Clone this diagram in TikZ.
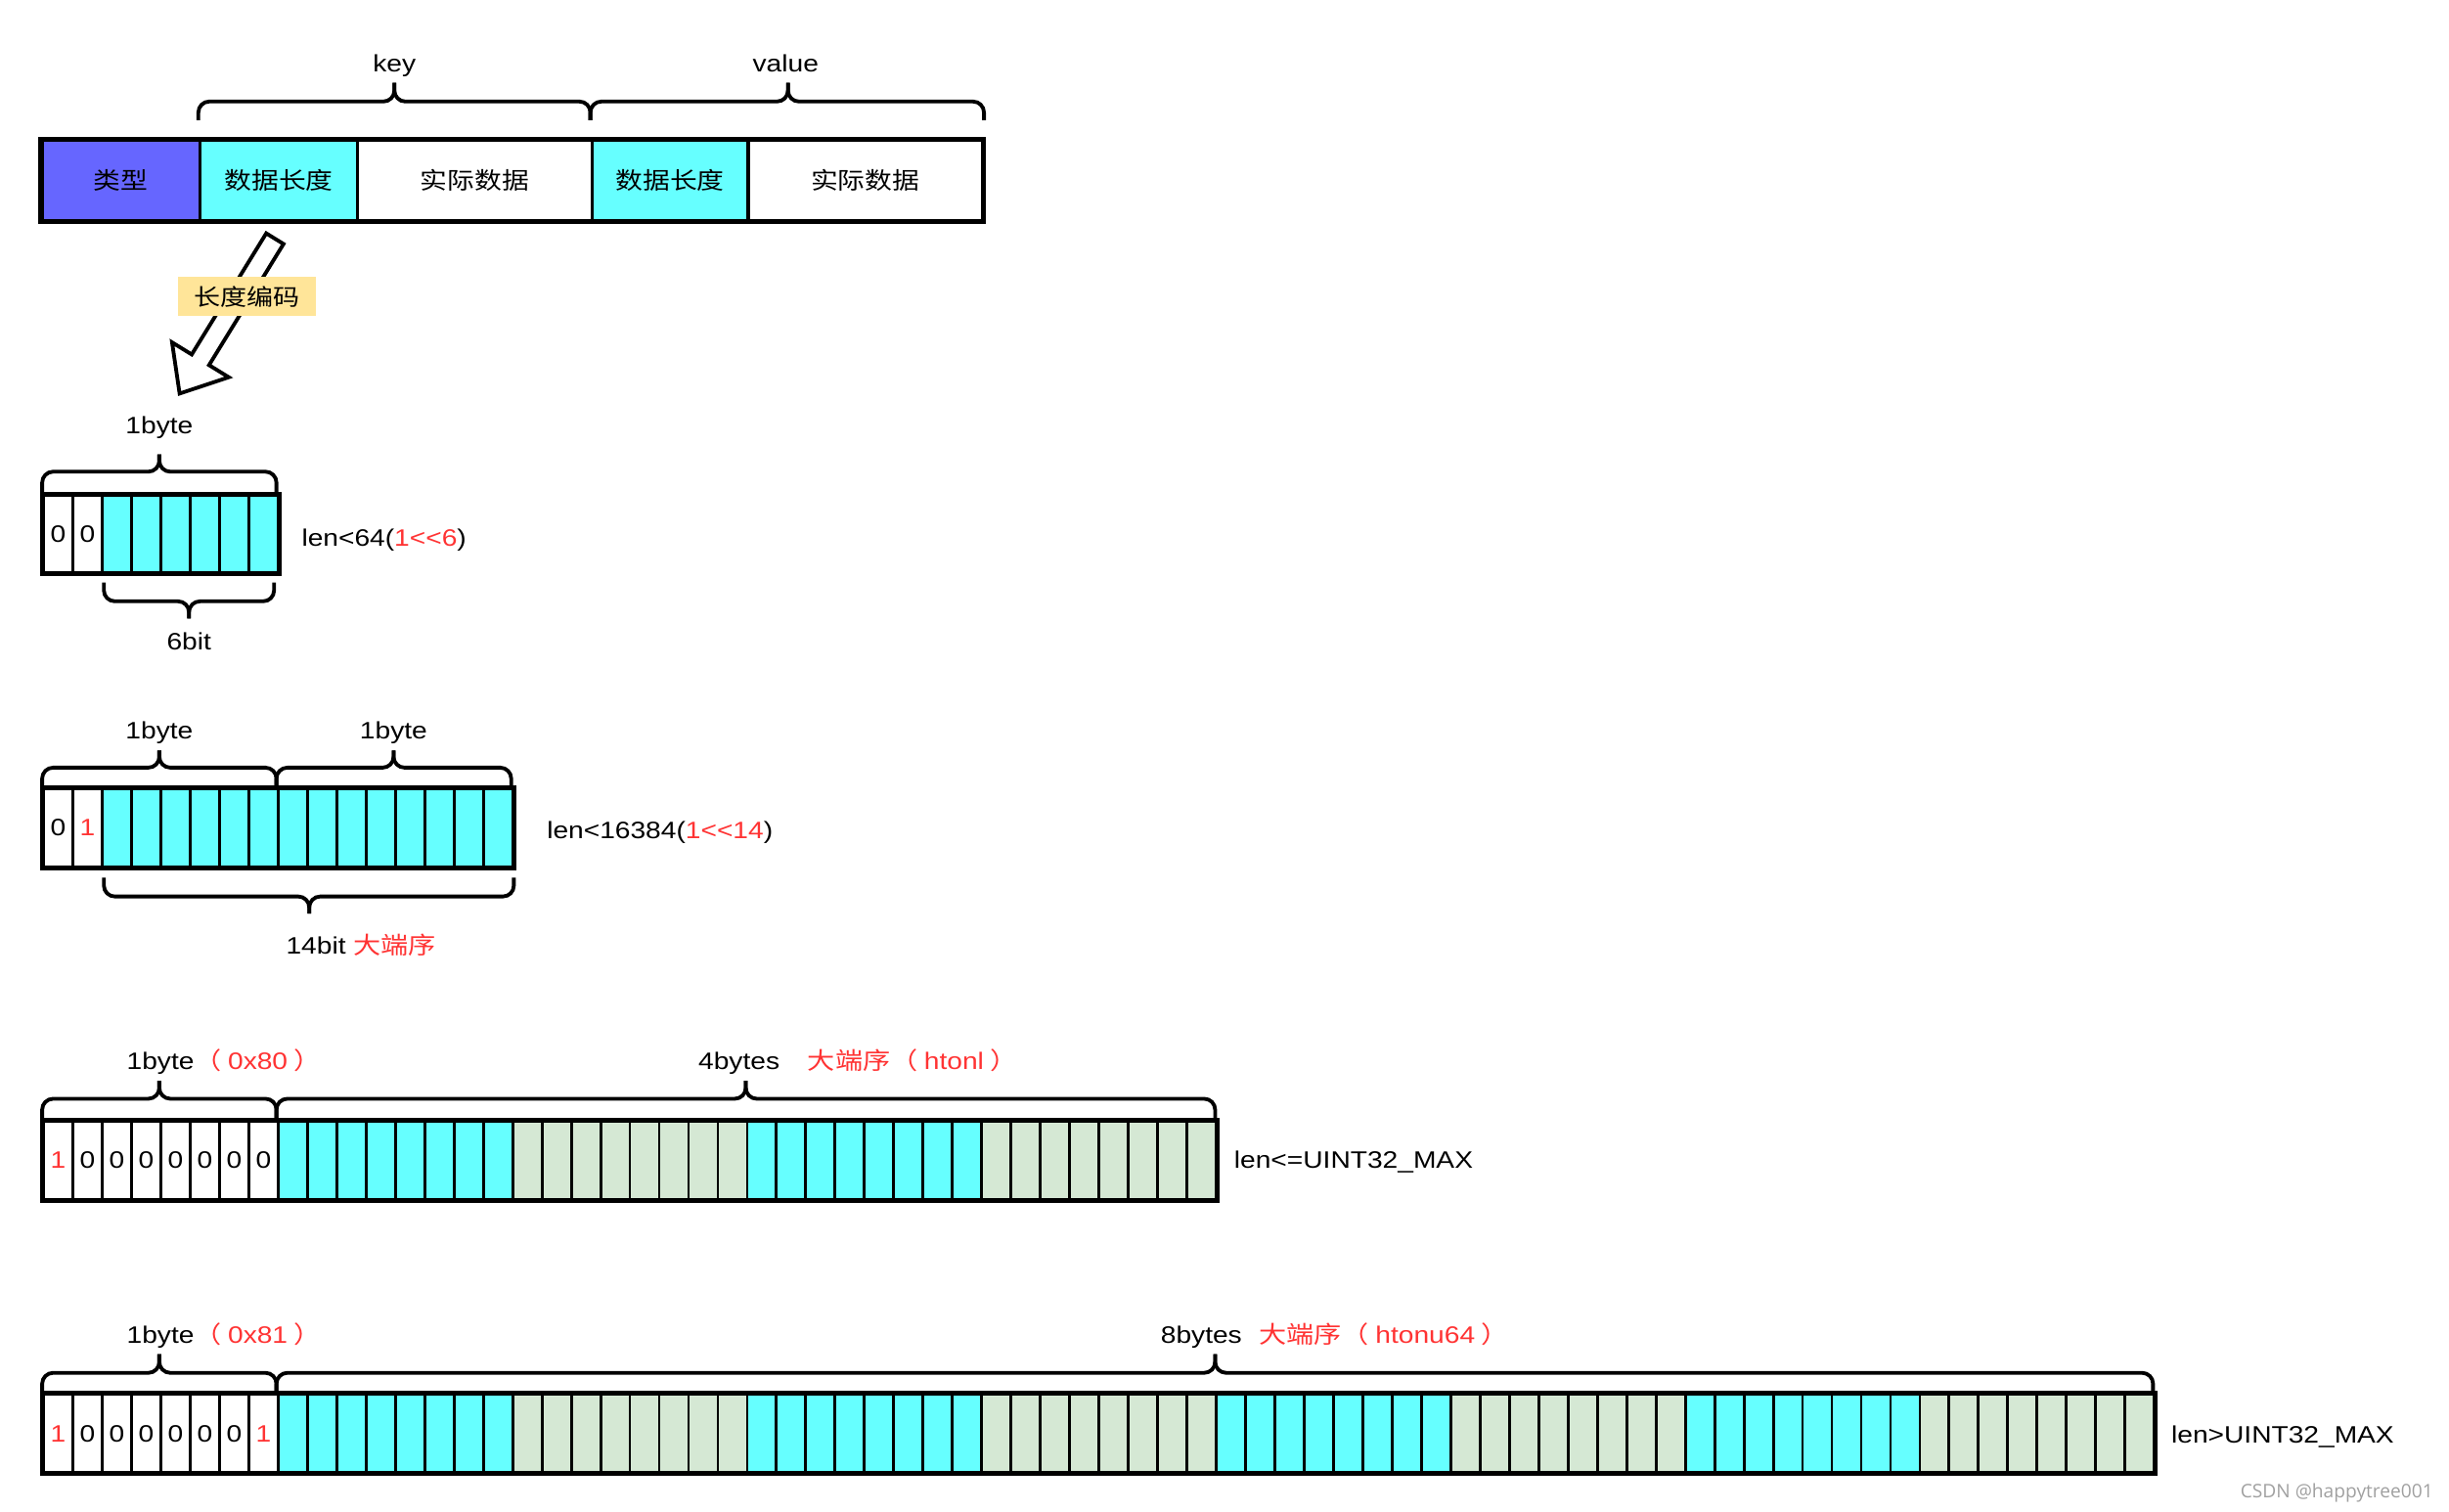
\documentclass[tikz,border=0pt]{standalone}
\usepackage{fontspec}
\setmainfont{Liberation Sans}[FakeStretch=1.16]
\newfontfamily\cjk{Noto Sans CJK SC}[FakeStretch=1.16]
\newfontfamily\wmfont{Open Sans}
\usetikzlibrary{calc}
\definecolor{cblue}{HTML}{6666FF}
\definecolor{ccyan}{HTML}{66FFFF}
\definecolor{cgreen}{HTML}{D5E8D4}
\definecolor{cyel}{HTML}{FFE599}
\definecolor{cred}{HTML}{FF3333}
\definecolor{cwm}{HTML}{A0A0A0}
\def\cw{18.77}
\newcommand\mybrace[6]{% x0,x1,xm,yline,ytip,ypeak
  \draw[bracestyle] (#1,#5) -- (#1,#4) -- (#3,#4) -- (#3,#6);
  \draw[bracestyle] (#3,#6) -- (#3,#4) -- (#2,#4) -- (#2,#5);}
\newcommand\lp{{\cjk （}\hspace{4pt}}
\newcommand\rp{\hspace{4pt}{\cjk ）}}
\tikzset{
  lbl/.style={font=\fontsize{15.2}{18}\selectfont, inner sep=0pt},
  barcell/.style={draw, line width=2pt, minimum height=51pt, inner sep=0pt, anchor=north west, font=\cjk\fontsize{15}{18}\selectfont},
  cell/.style={draw, line width=1.8pt, minimum height=50pt, minimum width=\cw pt, inner sep=0pt, anchor=north west, font=\fontsize{15.2}{18}\selectfont},
  outerbox/.style={draw, line width=2.6pt},
  bracestyle/.style={line width=2.4pt, rounded corners=7pt},
  blockarrow/.style={draw, line width=2.4pt, fill=white, line join=miter},
}
\begin{document}
\begin{tikzpicture}[x=1pt,y=-1pt]
\useasboundingbox (0,0) rectangle (1568,968);

% ---------- top bar ----------
\node[barcell, fill=cblue, minimum width=101pt] (t1) at (26,89) {类型};
\node[barcell, fill=ccyan, minimum width=101pt] (t2) at (127,89) {数据长度};
\node[barcell, fill=white, minimum width=150pt] (t3) at (228,89) {实际数据};
\node[barcell, fill=ccyan, minimum width=100pt] (t4) at (378,89) {数据长度};
\node[barcell, fill=white, minimum width=150pt] (t5) at (478,89) {实际数据};
\draw[outerbox] (t1.north west) rectangle (t5.south east);

\mybrace{127}{378}{252.5}{65}{77}{53}
\mybrace{378}{630}{504.5}{65}{77}{53}
\node[lbl, anchor=base] (lkey) at (252.5,46) {key};
\node[lbl, anchor=base] (lval) at (503,46) {value};

% ---------- block arrow ----------
\coordinate (at) at (176,152.8);
\coordinate (ah) at (115,252);
\coordinate (ab) at ($(ah)!25.4pt!(at)$);
\coordinate (tl) at ($(at)!6.5pt!90:(ah)$);
\coordinate (tr) at ($(at)!6.5pt!-90:(ah)$);
\coordinate (sl) at ($(ab)!6.5pt!-90:(at)$);
\coordinate (sr) at ($(ab)!6.5pt!90:(at)$);
\coordinate (bl) at ($(ab)!21.3pt!-90:(at)$);
\coordinate (br) at ($(ab)!21.3pt!90:(at)$);
\draw[blockarrow] (tl) -- (sl) -- (bl) -- (ah) -- (br) -- (sr) -- (tr) -- cycle;
\node[fill=cyel, minimum width=88pt, minimum height=25pt, inner sep=0pt, font=\cjk\fontsize{14.6}{17}\selectfont] (enc) at (158,189.8) {长度编码};

% ---------- section 1 ----------
\foreach \i in {0,1}{
  \node[cell, fill=white] (ra\i) at ({27+\i*\cw},316) {0};
}
\foreach \i in {2,...,7}{
  \node[cell, fill=ccyan] (ra\i) at ({27+\i*\cw},316) {};
}
\draw[outerbox] (ra0.north west) rectangle (ra7.south east);
\mybrace{27}{177}{102}{302}{316}{291}
\mybrace{66.5}{175.5}{121}{385}{373}{396}
\node[lbl, anchor=base] (la1) at (102,278) {1byte};
\node[lbl, anchor=base west] (la2) at (193,350) {len<64(\textcolor{cred}{1<\kern0pt<6})};
\node[lbl, anchor=base] (la3) at (121,416) {6bit};

% ---------- section 2 ----------
\node[cell, fill=white] (rb0) at (27,504) {0};
\node[cell, fill=white, text=cred] (rb1) at ({27+\cw},504) {1};
\foreach \i in {2,...,15}{
  \node[cell, fill=ccyan] (rb\i) at ({27+\i*\cw},504) {};
}
\draw[outerbox] (rb0.north west) rectangle (rb15.south east);
\mybrace{27}{177}{102}{491.5}{504}{480.5}
\mybrace{177}{327.3}{252}{491.5}{504}{480.5}
\mybrace{66.5}{329}{198}{574}{562}{585}
\node[lbl, anchor=base] (lb1) at (102,473) {1byte};
\node[lbl, anchor=base] (lb2) at (252,473) {1byte};
\node[lbl, anchor=base west] (lb3) at (350,537) {len<16384(\textcolor{cred}{1<\kern0pt<14})};
\node[lbl, anchor=base west] (lb4) at (183,611) {14bit \textcolor{cred}{\cjk 大端序}};

% ---------- section 3 ----------
\foreach \i/\t in {0/{\textcolor{cred}{1}},1/0,2/0,3/0,4/0,5/0,6/0,7/0}{
  \node[cell, fill=white] (rc\i) at ({27+\i*\cw},717) {\t};
}
\foreach \i in {8,...,39}{
  \pgfmathtruncatemacro\blk{mod(floor((\i-8)/8),2)}
  \ifnum\blk=0 \def\fc{ccyan}\else\def\fc{cgreen}\fi
  \node[cell, fill=\fc] (rc\i) at ({27+\i*\cw},717) {};
}
\draw[outerbox] (rc0.north west) rectangle (rc39.south east);
\mybrace{27}{177}{102}{703.5}{717}{692}
\mybrace{177}{778}{477.5}{703.5}{717}{692}
\node[lbl, anchor=base west] (lc1) at (81,685) {1byte\textcolor{cred}{\lp 0x80\rp}};
\node[lbl, anchor=base west] (lc2) at (447,685) {4bytes\hspace{18pt}\textcolor{cred}{{\cjk 大端序}\lp htonl\rp}};
\node[lbl, anchor=base west] (lc3) at (790,748) {len<=UINT32\_MAX};

% ---------- section 4 ----------
\foreach \i/\t in {0/{\textcolor{cred}{1}},1/0,2/0,3/0,4/0,5/0,6/0,7/{\textcolor{cred}{1}}}{
  \node[cell, fill=white] (rd\i) at ({27+\i*\cw},892) {\t};
}
\foreach \i in {8,...,71}{
  \pgfmathtruncatemacro\blk{mod(floor((\i-8)/8),2)}
  \ifnum\blk=0 \def\fc{ccyan}\else\def\fc{cgreen}\fi
  \node[cell, fill=\fc] (rd\i) at ({27+\i*\cw},892) {};
}
\draw[outerbox] (rd0.north west) rectangle (rd71.south east);
\mybrace{27}{177}{102}{879}{892}{867}
\mybrace{177}{1378.5}{778}{879}{892}{867}
\node[lbl, anchor=base west] (ld1) at (81,860) {1byte\textcolor{cred}{\lp 0x81\rp}};
\node[lbl, anchor=base west] (ld2) at (743,860) {8bytes\hspace{11pt}\textcolor{cred}{{\cjk 大端序}\lp htonu64\rp}};
\node[lbl, anchor=base west] (ld3) at (1390,924) {len>UINT32\_MAX};

% ---------- watermark ----------
\node[anchor=base east, inner sep=0pt, text=cwm, font=\wmfont\fontsize{12}{14}\selectfont] (wm) at (1558,959) {CSDN @happytree001};
\end{tikzpicture}
\end{document}
